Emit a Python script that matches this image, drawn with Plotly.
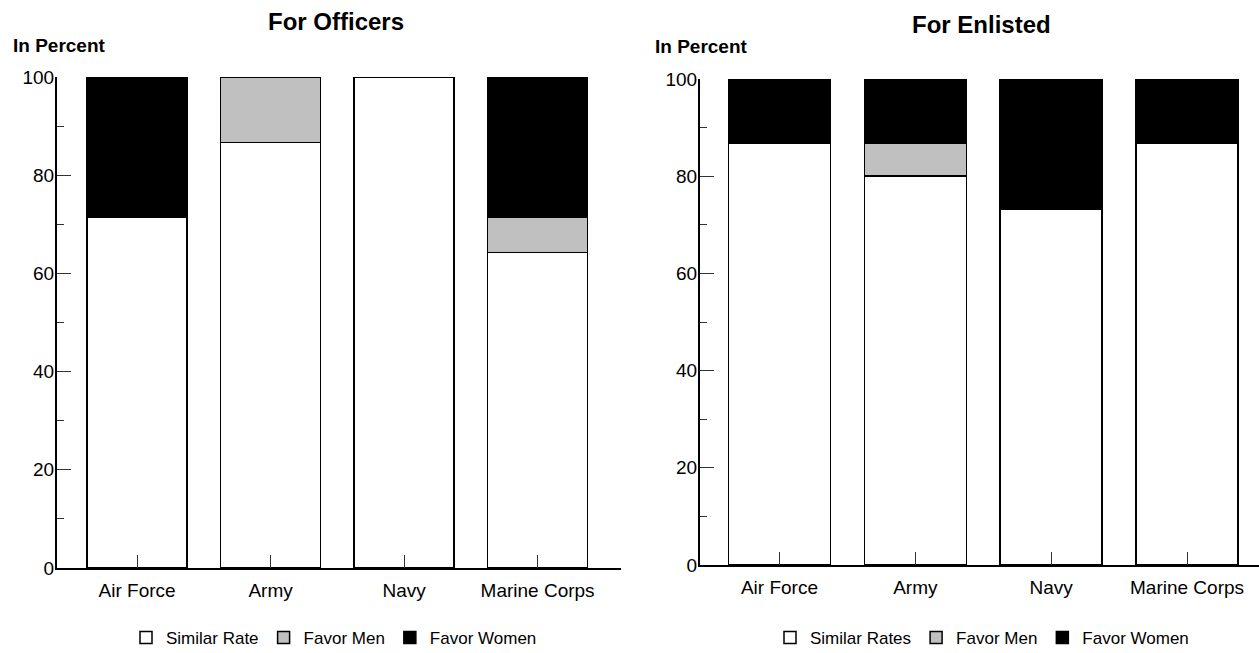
import plotly.graph_objects as go

# ---- data ----
categories = ["Air Force", "Army", "Navy", "Marine Corps"]

officers_similar = [71.4, 86.7, 100.0, 64.3]
officers_men = [0.0, 13.3, 0.0, 7.1]
officers_women = [28.6, 0.0, 0.0, 28.6]

enlisted_similar = [86.7, 80.0, 73.3, 86.7]
enlisted_men = [0.0, 6.7, 0.0, 0.0]
enlisted_women = [13.3, 13.3, 26.7, 13.3]

y_ticks = [0, 20, 40, 60, 80, 100]

left_series_names = ["Similar Rate", "Favor Men", "Favor Women"]
right_series_names = ["Similar Rates", "Favor Men", "Favor Women"]
series_colors = ["#ffffff", "#c0c0c0", "#000000"]

FONT = "Liberation Sans, Arial, Helvetica, sans-serif"
W, H = 1259, 653

fig = go.Figure()

left_data = [officers_similar, officers_men, officers_women]
right_data = [enlisted_similar, enlisted_men, enlisted_women]

for name, vals, col in zip(left_series_names, left_data, series_colors):
    fig.add_trace(go.Bar(
        x=categories, y=vals, name=name, xaxis="x", yaxis="y",
        marker=dict(color=col, line=dict(color="#000000", width=1.5)),
        width=0.75, legend="legend", hoverinfo="skip",
    ))

for name, vals, col in zip(right_series_names, right_data, series_colors):
    fig.add_trace(go.Bar(
        x=categories, y=vals, name=name, xaxis="x2", yaxis="y2",
        marker=dict(color=col, line=dict(color="#000000", width=1.5)),
        width=0.75, legend="legend2", hoverinfo="skip",
    ))

xaxis_common = dict(
    type="category", showgrid=False, zeroline=False, automargin=False,
    showline=True, linecolor="#000000", linewidth=2,
    ticks="inside", ticklen=13, tickwidth=1, tickcolor="#333333",
    tickfont=dict(family=FONT, size=19, color="#000000"),
    ticklabelstandoff=4,
    fixedrange=True,
)
yaxis_common = dict(
    range=[0, 100], tickvals=y_ticks, showgrid=False, zeroline=False, automargin=False,
    showline=True, linecolor="#000000", linewidth=2,
    ticks="inside", ticklen=14, tickwidth=1, tickcolor="#333333",
    minor=dict(dtick=10, ticks="inside", ticklen=7, tickwidth=1, tickcolor="#333333"),
    tickfont=dict(family=FONT, size=19, color="#000000"),
    ticklabelstandoff=-3,
    fixedrange=True,
)

fig.update_layout(
    width=W, height=H,
    margin=dict(l=0, r=0, t=0, b=0, autoexpand=False),
    paper_bgcolor="#ffffff", plot_bgcolor="#ffffff",
    barmode="stack",
    font=dict(family=FONT, color="#000000"),
    xaxis=dict(domain=[57/W, 621/W], range=[-0.6, 3.625], anchor="y", **xaxis_common),
    yaxis=dict(domain=[(H-568)/H, (H-77)/H], anchor="x", **yaxis_common),
    xaxis2=dict(domain=[700/W, 1.0], range=[-0.585, 3.53], anchor="y2", **xaxis_common),
    yaxis2=dict(domain=[(H-565)/H, (H-79)/H], anchor="x2", **yaxis_common),
    legend=dict(orientation="h", x=334/W, xanchor="center", y=(H-638)/H, yanchor="middle",
                font=dict(family=FONT, size=17), itemwidth=30, traceorder="normal",
                bgcolor="rgba(0,0,0,0)"),
    legend2=dict(orientation="h", x=982/W, xanchor="center", y=(H-638)/H, yanchor="middle",
                 font=dict(family=FONT, size=17), itemwidth=30, traceorder="normal",
                 bgcolor="rgba(0,0,0,0)"),
    showlegend=True,
    annotations=[
        dict(text="<b>For Officers</b>", x=336/W, y=1-22/H, xref="paper", yref="paper",
             xanchor="center", yanchor="middle", showarrow=False, font=dict(family=FONT, size=24)),
        dict(text="<b>For Enlisted</b>", x=981/W, y=1-25/H, xref="paper", yref="paper",
             xanchor="center", yanchor="middle", showarrow=False, font=dict(family=FONT, size=24)),
        dict(text="<b>In Percent</b>", x=11/W, y=1-45/H, xref="paper", yref="paper",
             xanchor="left", yanchor="middle", showarrow=False, font=dict(family=FONT, size=19)),
        dict(text="<b>In Percent</b>", x=653/W, y=1-46/H, xref="paper", yref="paper",
             xanchor="left", yanchor="middle", showarrow=False, font=dict(family=FONT, size=19)),
    ],
)

post = (
    "document.documentElement.style.cssText='margin:0;padding:0;overflow:hidden';"
    "document.body.style.cssText='margin:0;padding:0;overflow:hidden';"
)
fig.write_html("out.html", post_script=post, config={"displayModeBar": False})
